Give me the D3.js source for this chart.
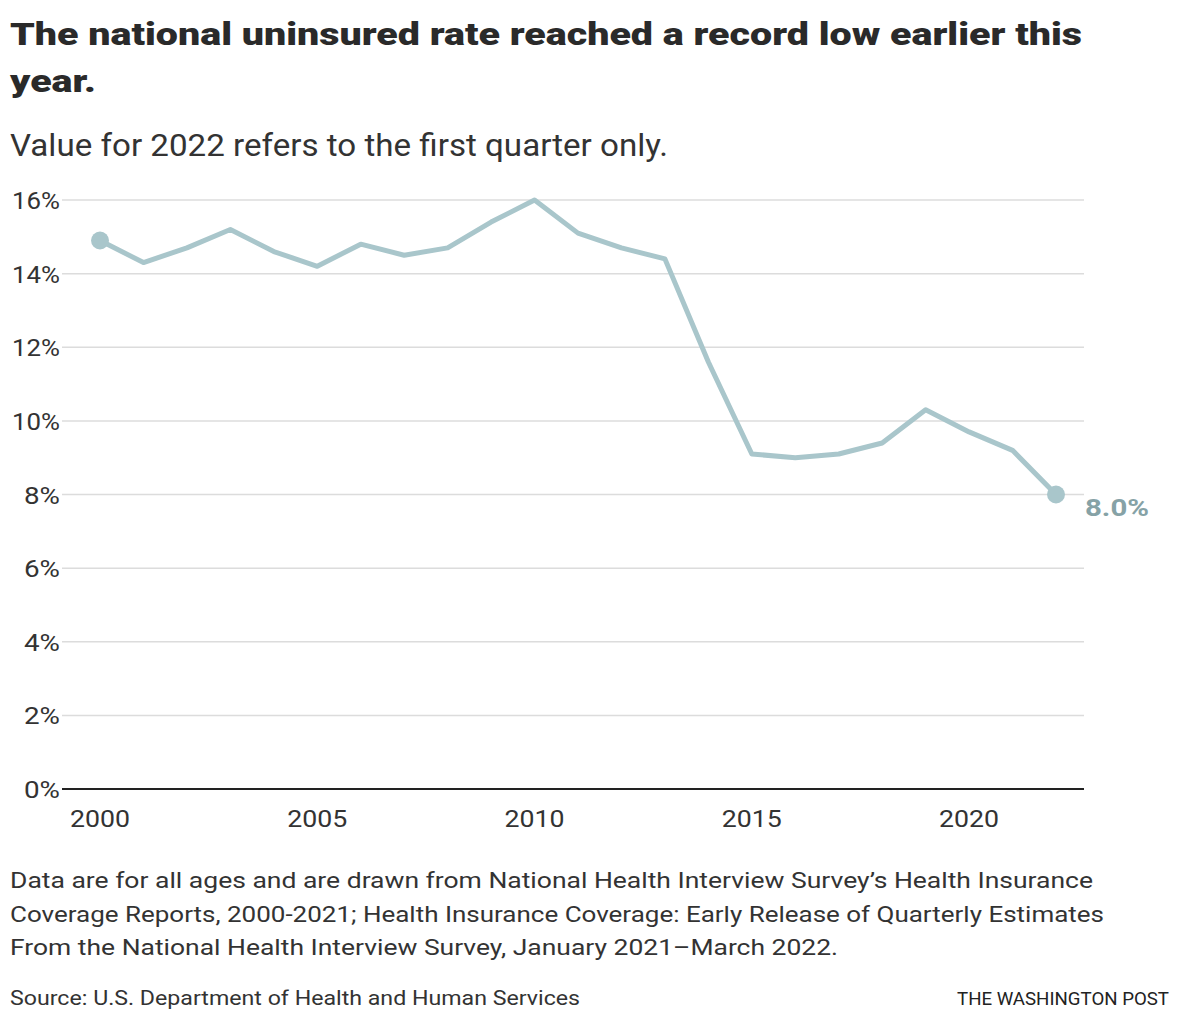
<!DOCTYPE html>
<html>
<head>
<meta charset="utf-8">
<script src="https://cdn.jsdelivr.net/npm/d3@7"></script>
<style>
  body { margin: 0; background: #fff; font-family: Roboto, "Noto Sans", sans-serif; color: #222; }
  svg text { font-family: Roboto, "Noto Sans", sans-serif; }
</style>
</head>
<body>
<div id="chart"></div>
<script>
// data
var years = d3.range(2000, 2023);
var rates = [14.9, 14.3, 14.7, 15.2, 14.6, 14.2, 14.8, 14.5, 14.7, 15.4, 16.0,
             15.1, 14.7, 14.4, 11.6, 9.1, 9.0, 9.1, 9.4, 10.3, 9.7, 9.2, 8.0];
var yTicks = [0, 2, 4, 6, 8, 10, 12, 14, 16];
var xTicks = [2000, 2005, 2010, 2015, 2020];
var notes = [
  "Data are for all ages and are drawn from National Health Interview Survey\u2019s Health Insurance",
  "Coverage Reports, 2000-2021; Health Insurance Coverage: Early Release of Quarterly Estimates",
  "From the National Health Interview Survey, January 2021\u2013March 2022."
];
var noteWidths = [1083, 1094, 828];

var W = 1180, H = 1022;

var svg = d3.select("#chart").append("svg")
  .attr("width", W).attr("height", H);

// helper: text stretched to the reference width
function label(x, y, str, size, weight, fill, len, anchor) {
  var t = svg.append("text").attr("x", x).attr("y", y)
    .style("font-size", size + "px").style("font-weight", weight)
    .attr("fill", fill).text(str);
  if (anchor) t.attr("text-anchor", anchor);
  if (len) t.attr("textLength", len).attr("lengthAdjust", "spacingAndGlyphs");
  return t;
}

// titles
label(10, 45, "The national uninsured rate reached a record low earlier this", 32, 900, "#2a2a2a", 1072);
label(10, 92, "year.", 32, 900, "#2a2a2a", 86);
label(10, 156, "Value for 2022 refers to the first quarter only.", 31, 400, "#333", 658);

var x = d3.scaleLinear().domain([2000, 2022]).range([100, 1056]);
var y = d3.scaleLinear().domain([0, 16]).range([789, 200]);
var left = 62, right = 1084;

// gridlines
svg.append("g").selectAll("line").data(yTicks.filter(d => d > 0)).join("line")
  .attr("x1", left).attr("x2", right)
  .attr("y1", d => y(d)).attr("y2", d => y(d))
  .attr("stroke", "#dcdcdc").attr("stroke-width", 1.5);

// y labels
svg.append("g").selectAll("text").data(yTicks).join("text")
  .attr("x", 60).attr("y", d => y(d) + 9)
  .attr("text-anchor", "end")
  .style("font-size", "24px").attr("fill", "#333")
  .attr("textLength", d => d >= 10 ? 48 : 36).attr("lengthAdjust", "spacingAndGlyphs")
  .text(d => d + "%");

// baseline
svg.append("line")
  .attr("x1", left).attr("x2", right)
  .attr("y1", y(0)).attr("y2", y(0))
  .attr("stroke", "#222").attr("stroke-width", 2);

// x labels
svg.append("g").selectAll("text").data(xTicks).join("text")
  .attr("x", d => x(d)).attr("y", 827)
  .attr("text-anchor", "middle")
  .style("font-size", "24px").attr("fill", "#333")
  .attr("textLength", 60).attr("lengthAdjust", "spacingAndGlyphs")
  .text(d => d);

var pts = years.map((yr, i) => ({ year: yr, value: rates[i] }));

var line = d3.line().x(d => x(d.year)).y(d => y(d.value));

svg.append("path").datum(pts)
  .attr("d", line)
  .attr("fill", "none")
  .attr("stroke", "#a9c6cb")
  .attr("stroke-width", 5)
  .attr("stroke-linejoin", "round");

var ends = [pts[0], pts[pts.length - 1]];
svg.append("g").selectAll("circle").data(ends).join("circle")
  .attr("cx", d => x(d.year)).attr("cy", d => y(d.value))
  .attr("r", 9).attr("fill", "#a9c6cb");

var last = pts[pts.length - 1];
label(x(last.year) + 29, y(last.value) + 21, last.value.toFixed(1) + "%", 24, 700, "#86a2a6", 64);

// notes
notes.forEach(function (n, i) {
  label(10, 888 + i * 33.5, n, 22, 400, "#333", noteWidths[i]);
});

label(10, 1005, "Source: U.S. Department of Health and Human Services", 20, 400, "#333", 570);
label(1169, 1005, "THE WASHINGTON POST", 18, 400, "#222", 212, "end");
</script>
</body>
</html>
